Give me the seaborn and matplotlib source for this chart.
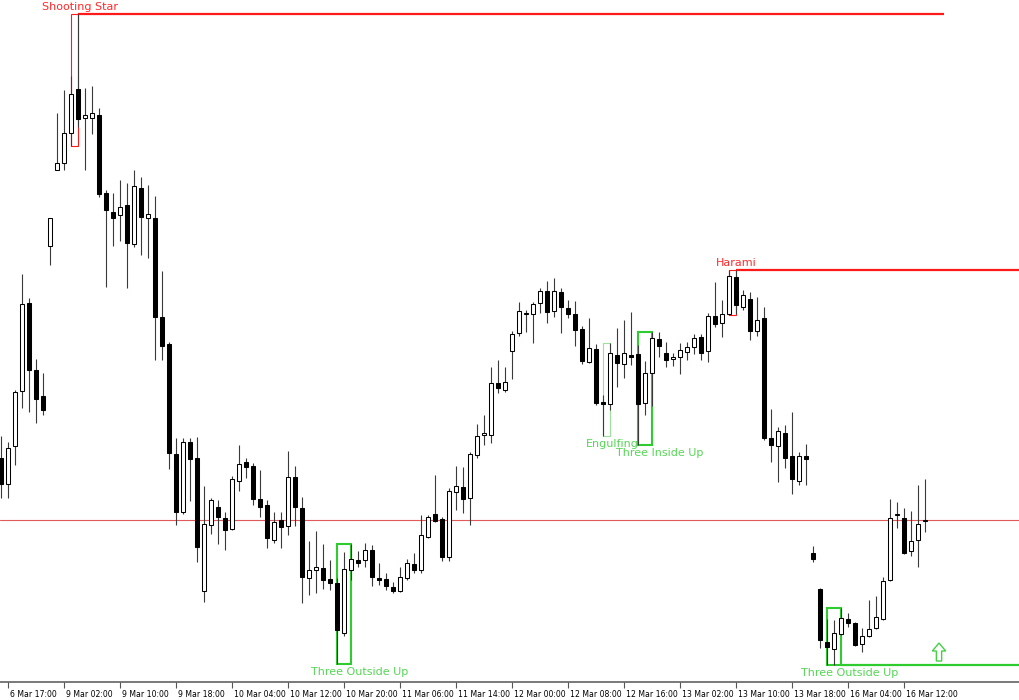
import numpy as np
import matplotlib
matplotlib.use("Agg")
import matplotlib.pyplot as plt
import seaborn as sns
from matplotlib.patches import Rectangle, FancyArrow
from matplotlib.transforms import ScaledTranslation

# hourly candles (no price scale shown, so chart units)
opens = [242, 216, 254, 309, 397, 330, 304, 454, 530, 537, 567, 611, 582, 582, 585, 507, 488, 485, 495, 456,
         512, 482, 482, 383, 356, 246, 188, 258, 242, 109, 175, 193, 182, 171, 219, 238, 234, 201, 195, 160,
         180, 174, 223, 192, 122, 130, 132, 121, 117, 67, 130, 140, 140, 150, 122, 121, 113, 109, 122, 136,
         130, 163, 186, 181, 143, 208, 213, 202, 245, 265, 265, 317, 310, 349, 367, 386, 386, 397, 409, 389,
         408, 392, 386, 371, 338, 351, 298, 296, 345, 336, 345, 346, 297, 327, 361, 347, 341, 343, 348, 353,
         363, 349, 384, 377, 386, 423, 393, 401, 369, 382, 262, 254, 267, 244, 219, 244, 147, 111, 58, 51,
         66, 81, 77, 56, 64, 72, 81, 120, 185, 182, 149, 160, 179]
highs = [264, 258, 310, 426, 402, 341, 327, 482, 587, 610, 624, 686, 612, 614, 592, 510, 507, 520, 517, 530,
         523, 515, 504, 429, 358, 262, 262, 262, 263, 214, 202, 200, 188, 224, 255, 242, 237, 230, 200, 188,
         188, 249, 234, 203, 159, 169, 156, 140, 122, 148, 156, 149, 157, 155, 137, 127, 118, 133, 141, 147,
         185, 185, 225, 183, 212, 234, 233, 248, 276, 285, 333, 340, 333, 369, 398, 390, 398, 412, 419, 422,
         412, 400, 399, 374, 382, 356, 305, 357, 372, 380, 388, 355, 339, 368, 368, 358, 347, 357, 358, 366,
         366, 387, 418, 400, 430, 430, 410, 408, 403, 393, 291, 273, 275, 288, 248, 256, 154, 112, 81, 80,
         92, 87, 78, 72, 100, 104, 123, 201, 198, 192, 189, 215, 221]
lows = [202, 202, 235, 292, 288, 277, 285, 435, 530, 530, 554, 573, 530, 566, 503, 413, 454, 459, 412, 453,
        445, 442, 340, 340, 231, 175, 186, 199, 138, 98, 166, 156, 150, 170, 209, 222, 195, 183, 152, 157,
        152, 165, 174, 97, 105, 107, 111, 110, 36, 64, 120, 133, 133, 114, 115, 110, 107, 108, 120, 127,
        127, 162, 178, 139, 139, 190, 187, 175, 242, 255, 257, 307, 308, 321, 364, 368, 357, 387, 377, 383,
        367, 382, 354, 336, 337, 295, 264, 290, 313, 322, 335, 255, 285, 294, 343, 333, 334, 326, 340, 346,
        340, 338, 373, 363, 385, 386, 390, 360, 364, 260, 238, 218, 232, 206, 215, 215, 138, 52, 35, 35,
        65, 73, 54, 48, 63, 71, 80, 119, 172, 146, 144, 133, 168]
closes = [216, 252, 308, 396, 330, 301, 290, 482, 537, 567, 606, 581, 585, 587, 506, 490, 482, 493, 457, 514,
          483, 486, 383, 354, 247, 188, 258, 241, 153, 176, 200, 183, 170, 221, 236, 233, 201, 193, 162, 178,
          173, 223, 193, 123, 130, 133, 120, 117, 70, 131, 141, 137, 150, 123, 120, 114, 109, 123, 137, 130,
          165, 183, 179, 143, 209, 214, 201, 246, 264, 267, 317, 312, 318, 366, 389, 387, 396, 409, 388, 409,
          393, 386, 370, 339, 352, 297, 296, 347, 337, 347, 343, 296, 327, 362, 354, 340, 343, 350, 353, 362,
          347, 384, 376, 386, 424, 395, 405, 369, 380, 262, 255, 269, 242, 221, 244, 241, 141, 60, 53, 67,
          82, 77, 55, 64, 71, 83, 119, 182, 186, 147, 159, 176, 180]

tick_labels = ["6 Mar 17:00", "9 Mar 02:00", "9 Mar 10:00", "9 Mar 18:00", "10 Mar 04:00", "10 Mar 12:00",
               "10 Mar 20:00", "11 Mar 06:00", "11 Mar 14:00", "12 Mar 00:00", "12 Mar 08:00", "12 Mar 16:00",
               "13 Mar 02:00", "13 Mar 10:00", "13 Mar 18:00", "16 Mar 04:00", "16 Mar 12:00"]

# candle patterns found by the indicator
pat_names = ["Shooting Star", "Three Outside Up", "Engulfing", "Three Inside Up", "Harami", "Three Outside Up"]
pat_start = [10, 48, 86, 91, 104, 118]
pat_end = [11, 50, 87, 93, 105, 120]
pat_bull = [False, True, True, True, False, True]
pat_extend = [134.7, None, None, None, 146, 146]   # level line drawn on to the right
pat_label_dx = [0.3, 1.3, 0.3, 1.1, 0.1, 1.3]

signal_idx = 134
signal_price = 39

sns.set_theme(style="white")
plt.rcParams["font.family"] = ["DejaVu Sans"]

fig = plt.figure(figsize=(10.2, 7), dpi=100)
ax = fig.add_axes([0, 18 / 700, 1, 682 / 700])

o = np.array(opens)
h = np.array(highs)
l = np.array(lows)
c = np.array(closes)
idx = np.arange(len(o))
up = c >= o

ax.vlines(idx, l, h, color="#3a3a3a", lw=0.8, zorder=3)
body_lo = np.minimum(o, c)
body_h = np.maximum(np.abs(c - o), 1.0)
ax.bar(idx[up], body_h[up], bottom=body_lo[up], width=0.6, color="white",
       edgecolor="black", linewidth=0.75, zorder=4)
ax.bar(idx[~up], body_h[~up], bottom=body_lo[~up], width=0.6, color="black",
       edgecolor="black", linewidth=0.75, zorder=4)

# bid line
ax.axhline(c[-1], color="#e05a5a", lw=0.8, zorder=1)

for name, s, e, bull, ext, dx in zip(pat_names, pat_start, pat_end, pat_bull, pat_extend, pat_label_dx):
    top = h[s:e + 1].max()
    bot = l[s:e + 1].min()
    if bull:
        col = "#9be09b" if e - s == 1 else "#2ecc2e"
        lw = 0.8 if e - s == 1 else 1.5
        tcol = "#55d655"
    else:
        col = "#ff1a1a"
        lw = 0.8
        tcol = "#ff2a2a"
    ax.add_patch(Rectangle((s, bot), e - s, top - bot, fill=False, edgecolor=col, lw=lw, zorder=2))
    if ext is not None:
        lvl = bot if bull else top
        ax.plot([e, ext], [lvl, lvl], color=col if not bull else "#2ecc2e", lw=1.6, zorder=2,
                solid_capstyle="butt")
    if bull:
        ax.annotate(name, xy=(e + dx, bot), xytext=(0, -5.8), textcoords="offset points",
                    ha="center", va="center", fontsize=8, color=tcol, zorder=6)
    else:
        ax.annotate(name, xy=(e + dx, top), xytext=(0, 5.2), textcoords="offset points",
                    ha="center", va="center", fontsize=8, color=tcol, zorder=6)

ax.add_patch(FancyArrow(signal_idx, signal_price, 0, 18, width=0.75, head_width=1.9,
                        head_length=8, length_includes_head=True, facecolor="white",
                        edgecolor="#44d044", lw=1.0, zorder=5))

ax.set_xlim(-1 / 7, 1019 / 7)
ax.set_ylim(18, 700)
ax.set_yticks([])
tick_pos = [1 + 8 * k for k in range(len(tick_labels))]
ax.set_xticks(tick_pos)
ax.set_xticklabels(tick_labels, ha="left", fontsize=5.6, color="black")
ax.tick_params(axis="x", bottom=True, direction="out", length=4, width=0.8, color="#555555", pad=1.5)
off = ScaledTranslation(2 / 100, 0, fig.dpi_scale_trans)
for lbl in ax.get_xticklabels():
    lbl.set_transform(lbl.get_transform() + off)
for side in ["top", "left", "right"]:
    ax.spines[side].set_visible(False)
ax.spines["bottom"].set_color("#555555")
ax.spines["bottom"].set_linewidth(1.1)
ax.set_facecolor("white")
fig.patch.set_facecolor("white")

fig.savefig("out.png", dpi=100)
